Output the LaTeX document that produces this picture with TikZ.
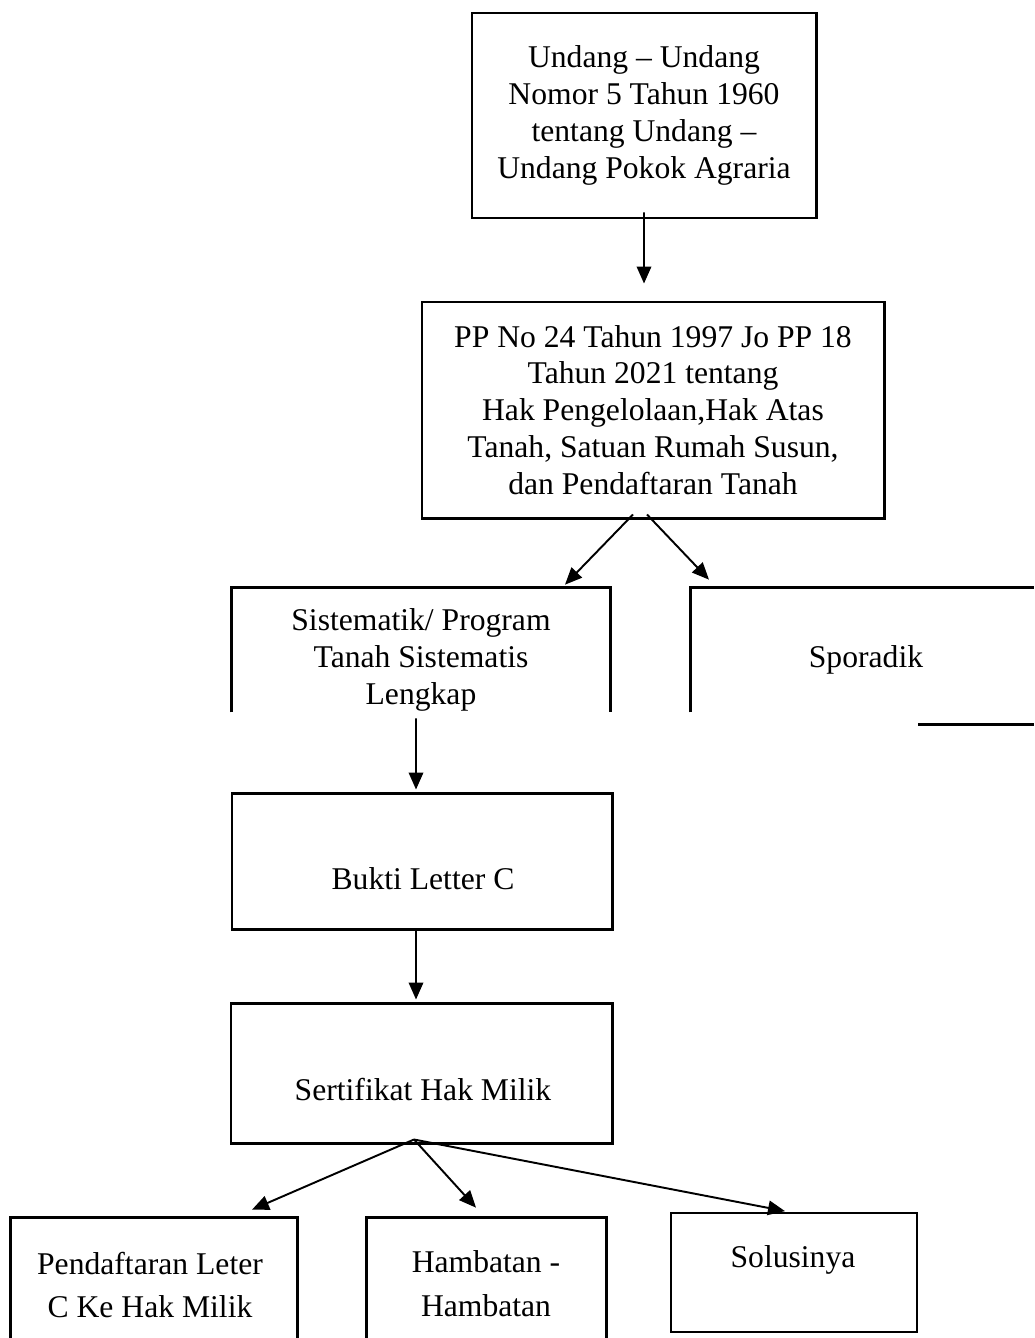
\documentclass[tikz,border=0pt]{standalone}
\usepackage{fontspec}
\setmainfont{Liberation Serif}
\usetikzlibrary{arrows.meta}

\begin{document}
\begin{tikzpicture}[x=0.2mm, y=-0.2mm,
    boxline/.style={black, line width=1.7pt},
    box/.style={rectangle, boxline, draw, inner sep=0pt},
    openbox/.style={rectangle, inner sep=0pt},
    txt/.style={align=center, font=\fontsize{18}{21}\selectfont},
    txtlow/.style={align=center, font=\fontsize{18}{25}\selectfont},
    arr/.style={black, line width=1.1pt, -{Triangle[length=3.4mm, width=2.9mm]}}]
    \useasboundingbox (0,0) rectangle (1034,1338);

    \node[box, txt, minimum width=68.8mm, minimum height=41mm] (uu) at (644,115.5) {Undang – Undang\\Nomor 5 Tahun 1960\\tentang Undang –\\Undang Pokok Agraria};
    \node[box, txt, minimum width=92.4mm, minimum height=43.2mm] (pp) at (653,410) {PP No 24 Tahun 1997 Jo PP 18\\Tahun 2021 tentang\\Hak Pengelolaan,Hak Atas\\Tanah, Satuan Rumah Susun,\\dan Pendaftaran Tanah};

    \node[openbox, minimum width=75.6mm, minimum height=24.8mm] (sis) at (421,650) {};
    \node[txt] (sistxt) at (421,660) {Sistematik/ Program\\Tanah Sistematis\\Lengkap};
    \node[openbox, minimum width=68.6mm, minimum height=24.8mm] (spor) at (862.5,650) {};
    \node[txt] (sportxt) at (866,660) {Sporadik};

    \node[box, minimum width=76mm, minimum height=27.2mm] (bukti) at (422,861) {};
    \node[txt] (buktitxt) at (423,879) {Bukti Letter C};
    \node[box, minimum width=76.2mm, minimum height=28mm] (sert) at (421.5,1073) {};
    \node[txt] (serttxt) at (423,1090) {Sertifikat Hak Milik};

    \node[openbox, minimum width=57.2mm, minimum height=24mm] (daftar) at (154,1278) {};
    \node[txtlow] (daftartxt) at (150,1285) {Pendaftaran Leter\\C Ke Hak Milik};
    \node[openbox, minimum width=47.8mm, minimum height=24mm] (hambat) at (486.5,1278) {};
    \node[txtlow] (hambattxt) at (486,1284) {Hambatan -\\Hambatan};
    \node[box, line width=1pt, minimum width=49.2mm, minimum height=23.8mm] (solusi) at (794,1272.5) {};
    \node[txt] (solusitxt) at (793,1260) {Solusinya};

    \draw[boxline] (sis.south west) |- (sis.north east) -- (sis.south east);
    \draw[boxline] (spor.south west) |- (spor.north east);
    \draw[boxline] (918,724) -- (1034,724);
    \draw[boxline] (daftar.south west) |- (daftar.north east) -- (daftar.south east);
    \draw[boxline] (hambat.south west) |- (hambat.north east) -- (hambat.south east);

    \draw[arr] ([yshift=1.4mm]uu.south) -- ([xshift=-1.8mm, yshift=3.4mm]pp.north);
    \draw[arr] ([xshift=-4mm, yshift=1mm]pp.south) -- ([xshift=28.8mm, yshift=0.6mm]sis.north);
    \draw[arr] ([xshift=-1.2mm, yshift=1mm]pp.south) -- ([xshift=-30.7mm, yshift=1.6mm]spor.north);
    \draw[arr] ([xshift=-1mm, yshift=-1.2mm]sis.south) -- ([xshift=-1.2mm, yshift=0.4mm]bukti.north);
    \draw[arr] ([xshift=-1.2mm]bukti.south) -- ([xshift=-1.1mm, yshift=0.4mm]sert.north);
    \coordinate (fork) at ([xshift=-1.5mm, yshift=1mm]sert.south);
    \draw[arr] (fork) -- ([xshift=19.6mm, yshift=1.6mm]daftar.north);
    \draw[arr] (fork) -- ([xshift=-2.1mm, yshift=2mm]hambat.north);
    \draw[arr] (fork) -- ([xshift=-1.8mm, yshift=0.2mm]solusi.north);
\end{tikzpicture}
\end{document}
